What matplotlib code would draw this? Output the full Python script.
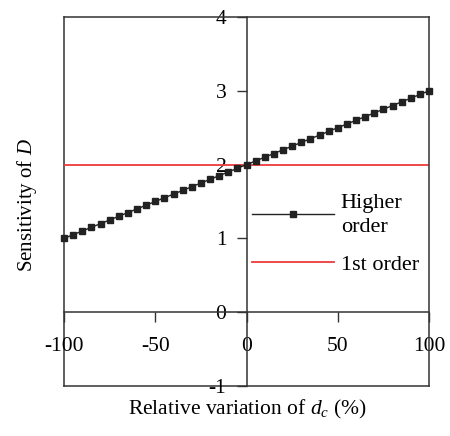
import matplotlib
matplotlib.use("Agg")
import matplotlib.pyplot as plt

plt.rcParams['font.family'] = ['Liberation Serif', 'DejaVu Serif']
plt.rcParams['mathtext.fontset'] = 'custom'
plt.rcParams['mathtext.rm'] = 'Liberation Serif'
plt.rcParams['mathtext.it'] = 'Liberation Serif:italic'

variation = [-100, -95, -90, -85, -80, -75, -70, -65, -60, -55, -50, -45, -40, -35,
             -30, -25, -20, -15, -10, -5, 0, 5, 10, 15, 20, 25, 30, 35, 40, 45, 50,
             55, 60, 65, 70, 75, 80, 85, 90, 95, 100]
higher_order = [1.00, 1.05, 1.10, 1.15, 1.20, 1.25, 1.30, 1.35, 1.40, 1.45, 1.50,
                1.55, 1.60, 1.65, 1.70, 1.75, 1.80, 1.85, 1.90, 1.95, 2.00, 2.05,
                2.10, 2.15, 2.20, 2.25, 2.30, 2.35, 2.40, 2.45, 2.50, 2.55, 2.60,
                2.65, 2.70, 2.75, 2.80, 2.85, 2.90, 2.95, 3.00]
first_order_x = [-100, 100]
first_order = [2.0, 2.0]
xticks = [-100, -50, 0, 50, 100]
xticklabels = ['-100', '-50', '0', '50', '100']
yticks = [-1, 0, 1, 2, 3, 4]
yticklabels = ['-1', '0', '1', '2', '3', '4']

fig = plt.figure(figsize=(4.5, 4.36), dpi=100)
ax = fig.add_axes([64/450, 1-386/436, (429-64)/450, (386-17)/436])

ax.plot(first_order_x, first_order, color='#ee3a3a', lw=1.3, label='1st order', zorder=2)
ax.plot(variation, higher_order, color='#222222', lw=1.0, marker='s', markersize=4.6,
        label='Higher\norder', zorder=3, clip_on=False)

ax.set_xlim(-100, 100)
ax.set_ylim(-1, 4)

spc = '#333333'
ax.spines['left'].set_position(('data', 0))
ax.spines['bottom'].set_position(('data', 0))
for s in ax.spines.values():
    s.set_color(spc)
    s.set_linewidth(1.1)
# outer box edges
ax.plot([0, 0], [0, 1], transform=ax.transAxes, color=spc, lw=1.1, clip_on=False, zorder=1)
ax.plot([0, 1], [0, 0], transform=ax.transAxes, color=spc, lw=1.1, clip_on=False, zorder=1)

ax.set_xticks(xticks)
ax.set_xticklabels(xticklabels)
ax.set_yticks(yticks)
ax.set_yticklabels(yticklabels)
ax.tick_params(axis='x', direction='out', length=7.5, width=1.0, color=spc,
               labelsize=15.5, pad=10)
ax.tick_params(axis='y', direction='out', length=7.5, width=1.0, color=spc,
               labelsize=15.5, pad=7)

handles, labels = ax.get_legend_handles_labels()
leg = ax.legend([handles[1], handles[0]], [labels[1], labels[0]],
                loc='upper left', bbox_to_anchor=(0.46, 0.575),
                frameon=False, fontsize=16, handlelength=3.7, handletextpad=0.3,
                labelspacing=0.8)
for t in leg.get_texts():
    t.set_linespacing(1.35)

fig.text(247/450, 1-409/436, r'Relative variation of $d_c$ (%)', ha='center', va='center',
         fontsize=15.5)
fig.text(27/450, 1-205/436, r'Sensitivity of $D$', ha='center', va='center',
         rotation=90, fontsize=15)

fig.savefig('out.png', dpi=100)
